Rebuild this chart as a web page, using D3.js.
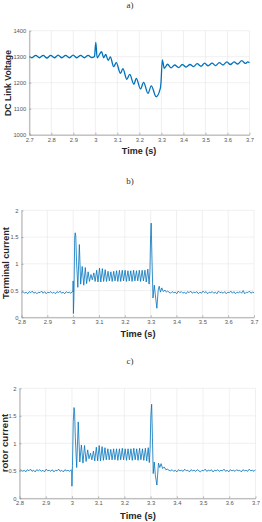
<!DOCTYPE html>
<html>
<head>
<meta charset="utf-8">
<script src="https://cdn.jsdelivr.net/npm/d3@7"></script>
<style>
  body { margin: 0; background: #fff; }
  svg { display: block; }
  .tick text { font-family: "Liberation Sans", Arial, sans-serif; fill: #555; }
  .domain { stroke: #8a8a8a; }
  .tick line { stroke: #8a8a8a; }
</style>
</head>
<body>
<div id="chart"></div>
<script>
// ---- data ----
// a) DC link voltage, (time s, volts) at peaks and troughs
const dcLink = [
  [2.700,1301],[2.712,1296],[2.729,1305],[2.746,1296],[2.763,1305],[2.780,1295],[2.797,1305],
  [2.814,1296],[2.831,1306],[2.848,1296],[2.865,1305],[2.882,1296],[2.899,1306],[2.916,1296],
  [2.933,1305],[2.950,1296],[2.967,1305],[2.984,1297],[2.996,1301],[3.002,1355],[3.008,1296],
  [3.028,1319],[3.038,1296],[3.047,1309],[3.058,1286],[3.068,1299],[3.083,1262],[3.095,1277],
  [3.114,1236],[3.125,1254],[3.143,1213],[3.156,1232],[3.175,1194],[3.186,1217],[3.205,1176],
  [3.219,1201],[3.239,1159],[3.254,1188],[3.276,1146],[3.295,1178],[3.298,1200],[3.304,1288],
  [3.313,1255],[3.328,1271],[3.344,1257],[3.360,1268],[3.378,1258],[3.395,1270],[3.412,1260],
  [3.430,1270],[3.446,1262],[3.462,1273],[3.480,1263],[3.496,1275],[3.512,1265],[3.530,1275],
  [3.546,1266],[3.563,1277],[3.580,1268],[3.597,1280],[3.613,1270],[3.630,1280],[3.646,1272],
  [3.665,1285],[3.681,1274],[3.692,1280],[3.700,1277]
];
const xTicksA = [2.7, 2.8, 2.9, 3, 3.1, 3.2, 3.3, 3.4, 3.5, 3.6, 3.7];
const yTicksA = [1000, 1100, 1200, 1300, 1400];

// b) terminal current: noisy steady state before/after, sampled evenly
const termPre = [0.46,0.48,0.45,0.47,0.44,0.48,0.46,0.49,0.45,0.47,0.44,0.47,0.46,0.49,0.45,0.48,0.44,
  0.47,0.46,0.48,0.45,0.47,0.44,0.48,0.46,0.49,0.45,0.47,0.44,0.48,0.46,0.47,0.45,0.48];
const termFault = [
  [2.999,0.47],[3.000,0.68],[3.001,0.07],[3.003,0.40],[3.006,1.50],[3.008,1.58],[3.010,1.52],
  [3.013,1.05],[3.018,0.56],[3.024,1.36],[3.029,0.62],[3.035,0.95],[3.041,0.60],[3.047,0.93],
  [3.052,0.63],[3.058,0.85],[3.063,0.67],[3.069,0.80],[3.074,0.70],[3.080,0.83],[3.085,0.67],
  [3.091,0.88],[3.096,0.66],[3.102,0.92],[3.107,0.66],[3.113,0.91],[3.118,0.67],[3.124,0.89],
  [3.129,0.67],[3.135,0.86],[3.140,0.68],[3.146,0.85],[3.151,0.67],[3.157,0.86],[3.162,0.68],
  [3.168,0.87],[3.173,0.67],[3.179,0.88],[3.184,0.67],[3.190,0.88],[3.195,0.68],[3.201,0.88],
  [3.206,0.67],[3.212,0.87],[3.217,0.68],[3.223,0.87],[3.228,0.67],[3.234,0.88],[3.239,0.68],
  [3.245,0.87],[3.250,0.68],[3.256,0.88],[3.261,0.67],[3.267,0.88],[3.272,0.68],[3.278,0.88],
  [3.283,0.66],[3.289,0.90],[3.294,0.62],[3.297,0.85],[3.300,1.55],[3.302,1.76],[3.305,1.10],
  [3.309,0.36],[3.314,0.60],[3.318,0.42],[3.324,0.17],[3.329,0.50],[3.333,0.58],[3.338,0.47],
  [3.343,0.55],[3.349,0.48],[3.355,0.51],[3.361,0.47],[3.366,0.49]
];
const termPost = [0.47,0.45,0.48,0.46,0.47,0.44,0.49,0.46,0.48,0.45,0.47,0.44,0.48,0.46,0.49,0.45,
  0.47,0.46,0.48,0.44,0.47,0.45,0.49,0.46,0.48,0.44,0.47,0.46,0.48,0.45,0.47,0.44,0.49,0.46,0.47,
  0.45,0.48,0.44,0.47,0.46,0.49,0.45,0.48,0.44,0.47,0.46,0.48,0.45,0.50,0.44,0.47,0.46,0.49,0.45,
  0.47,0.46];

// c) rotor current
const rotorPre = [0.50,0.52,0.49,0.51,0.48,0.52,0.50,0.53,0.49,0.51,0.48,0.52,0.50,0.52,0.49,0.51,
  0.48,0.53,0.50,0.51,0.49,0.52,0.48,0.51,0.50,0.53,0.49,0.51,0.48,0.52,0.50,0.51,0.49,0.52];
const rotorFault = [
  [2.999,0.51],[3.000,0.22],[3.002,0.60],[3.005,1.40],[3.008,1.65],[3.010,1.58],[3.013,1.10],
  [3.018,0.56],[3.024,1.39],[3.030,0.66],[3.036,0.97],[3.042,0.64],[3.048,0.96],[3.054,0.67],
  [3.060,0.88],[3.065,0.72],[3.071,0.82],[3.076,0.70],[3.082,0.86],[3.087,0.68],[3.093,0.93],
  [3.098,0.68],[3.104,0.96],[3.109,0.68],[3.115,0.94],[3.120,0.69],[3.126,0.92],[3.131,0.70],
  [3.137,0.90],[3.142,0.70],[3.148,0.89],[3.153,0.70],[3.159,0.90],[3.164,0.70],[3.170,0.90],
  [3.175,0.69],[3.181,0.90],[3.186,0.70],[3.192,0.91],[3.197,0.70],[3.203,0.90],[3.208,0.69],
  [3.214,0.90],[3.219,0.70],[3.225,0.90],[3.230,0.69],[3.236,0.91],[3.241,0.70],[3.247,0.90],
  [3.252,0.69],[3.258,0.91],[3.263,0.70],[3.269,0.90],[3.274,0.69],[3.280,0.91],[3.285,0.68],
  [3.291,0.92],[3.295,0.65],[3.298,0.90],[3.301,1.50],[3.304,1.71],[3.307,1.10],[3.310,0.45],
  [3.314,0.66],[3.318,0.42],[3.324,0.24],[3.330,0.64],[3.335,0.56],[3.340,0.63],[3.346,0.54],
  [3.352,0.57],[3.358,0.52],[3.364,0.53]
];
const rotorPost = [0.51,0.50,0.52,0.49,0.51,0.48,0.52,0.50,0.51,0.49,0.53,0.50,0.51,0.48,0.52,0.50,
  0.51,0.49,0.52,0.50,0.48,0.51,0.50,0.53,0.49,0.51,0.50,0.52,0.48,0.51,0.50,0.52,0.49,0.51,0.50,
  0.53,0.49,0.51,0.48,0.52,0.50,0.51,0.49,0.52,0.50,0.51,0.48,0.52,0.50,0.51,0.49,0.53,0.50,0.51,
  0.49,0.52];
const xTicksBC = [2.8, 2.9, 3, 3.1, 3.2, 3.3, 3.4, 3.5, 3.6, 3.7];
const yTicksBC = [0, 0.5, 1, 1.5, 2];

// evenly sampled stretch -> [t, v]
const spread = (vals, t0, t1) => vals.map((v, i) => [t0 + (t1 - t0) * i / (vals.length - 1), v]);

const termCurrent = spread(termPre, 2.8, 2.997).concat(termFault, spread(termPost, 3.371, 3.7));
const rotorCurrent = spread(rotorPre, 2.8, 2.997).concat(rotorFault, spread(rotorPost, 3.37, 3.7));

var width = 262, height = 522;
var svg = d3.select("#chart").append("svg")
    .attr("width", width)
    .attr("height", height);

const drawPanel = (p) => {
    var x = d3.scaleLinear().domain(p.xDomain).range([p.left, p.right]);
    var y = d3.scaleLinear().domain(p.yDomain).range([p.bottom, p.top]);
    var g = svg.append("g");

    // grid
    g.selectAll(".gx").data(p.xTicks).enter().append("line")
        .attr("x1", d => x(d)).attr("x2", d => x(d))
        .attr("y1", p.top).attr("y2", p.bottom)
        .attr("stroke", "#e6e6e6").attr("stroke-width", 0.6);
    g.selectAll(".gy").data(p.yTicks).enter().append("line")
        .attr("x1", p.left).attr("x2", p.right)
        .attr("y1", d => y(d)).attr("y2", d => y(d))
        .attr("stroke", "#e6e6e6").attr("stroke-width", 0.6);

    // curve
    g.append("path")
        .datum(p.data)
        .attr("fill", "none")
        .attr("stroke", "#0072BD")
        .attr("stroke-width", p.lineWidth)
        .attr("stroke-linejoin", "round")
        .attr("d", d3.line().x(d => x(d[0])).y(d => y(d[1])).curve(p.curve));

    // axes
    var xAxis = d3.axisBottom(x).tickValues(p.xTicks).tickFormat(d => String(d))
        .tickSize(-2).tickSizeOuter(0).tickPadding(3);
    var yAxis = d3.axisLeft(y).tickValues(p.yTicks).tickFormat(d => String(d))
        .tickSize(-2).tickSizeOuter(0).tickPadding(3);
    g.append("g").attr("transform", `translate(0,${p.bottom})`).call(xAxis)
        .selectAll("text").style("font-size", "5.8px");
    g.append("g").attr("transform", `translate(${p.left},0)`).call(yAxis)
        .selectAll("text").style("font-size", "5.8px");
    g.selectAll(".domain").attr("stroke-width", 0.7);
    g.selectAll(".tick line").attr("stroke-width", 0.6);

    // titles
    g.append("text")
        .attr("x", 130).attr("y", p.titleY)
        .attr("text-anchor", "middle")
        .style("font-family", "'Liberation Serif', 'Times New Roman', serif")
        .style("font-size", "9px").style("fill", "#333")
        .text(p.title);
    g.append("text")
        .attr("x", p.xLabelX).attr("y", p.xLabelY)
        .attr("text-anchor", "middle")
        .style("font-family", "'Liberation Sans', Arial, sans-serif")
        .style("font-weight", "bold").style("font-size", p.labelSize + "px").style("fill", "#262626")
        .text("Time (s)");
    g.append("text")
        .attr("transform", `translate(${p.yLabelX},${p.yLabelY}) rotate(-90)`)
        .attr("text-anchor", "middle")
        .style("font-family", "'Liberation Sans', Arial, sans-serif")
        .style("font-weight", "bold").style("font-size", p.yLabelSize + "px").style("fill", "#262626")
        .text(p.yLabel);
};

drawPanel({
    data: dcLink, xDomain: [2.7, 3.7], yDomain: [1000, 1400], xTicks: xTicksA, yTicks: yTicksA,
    left: 29.3, right: 249.5, top: 30.7, bottom: 134.7,
    lineWidth: 1.3, curve: d3.curveMonotoneX,
    title: "a)", titleY: 8,
    xLabelX: 139, xLabelY: 154, labelSize: 9,
    yLabel: "DC Link Voltage", yLabelX: 11.3, yLabelY: 83, yLabelSize: 8.7
});

drawPanel({
    data: termCurrent, xDomain: [2.8, 3.7], yDomain: [0, 2], xTicks: xTicksBC, yTicks: yTicksBC,
    left: 21.5, right: 254, top: 210.3, bottom: 317.3,
    lineWidth: 0.8, curve: d3.curveLinear,
    title: "b)", titleY: 184,
    xLabelX: 138, xLabelY: 337, labelSize: 9.2,
    yLabel: "Terminal current", yLabelX: 9.2, yLabelY: 263, yLabelSize: 9.2
});

drawPanel({
    data: rotorCurrent, xDomain: [2.8, 3.7], yDomain: [0, 2], xTicks: xTicksBC, yTicks: yTicksBC,
    left: 19.5, right: 255.5, top: 388.3, bottom: 498.3,
    lineWidth: 0.8, curve: d3.curveLinear,
    title: "c)", titleY: 364,
    xLabelX: 138, xLabelY: 519, labelSize: 9.4,
    yLabel: "rotor current", yLabelX: 7.5, yLabelY: 443, yLabelSize: 9.7
});
</script>
</body>
</html>
